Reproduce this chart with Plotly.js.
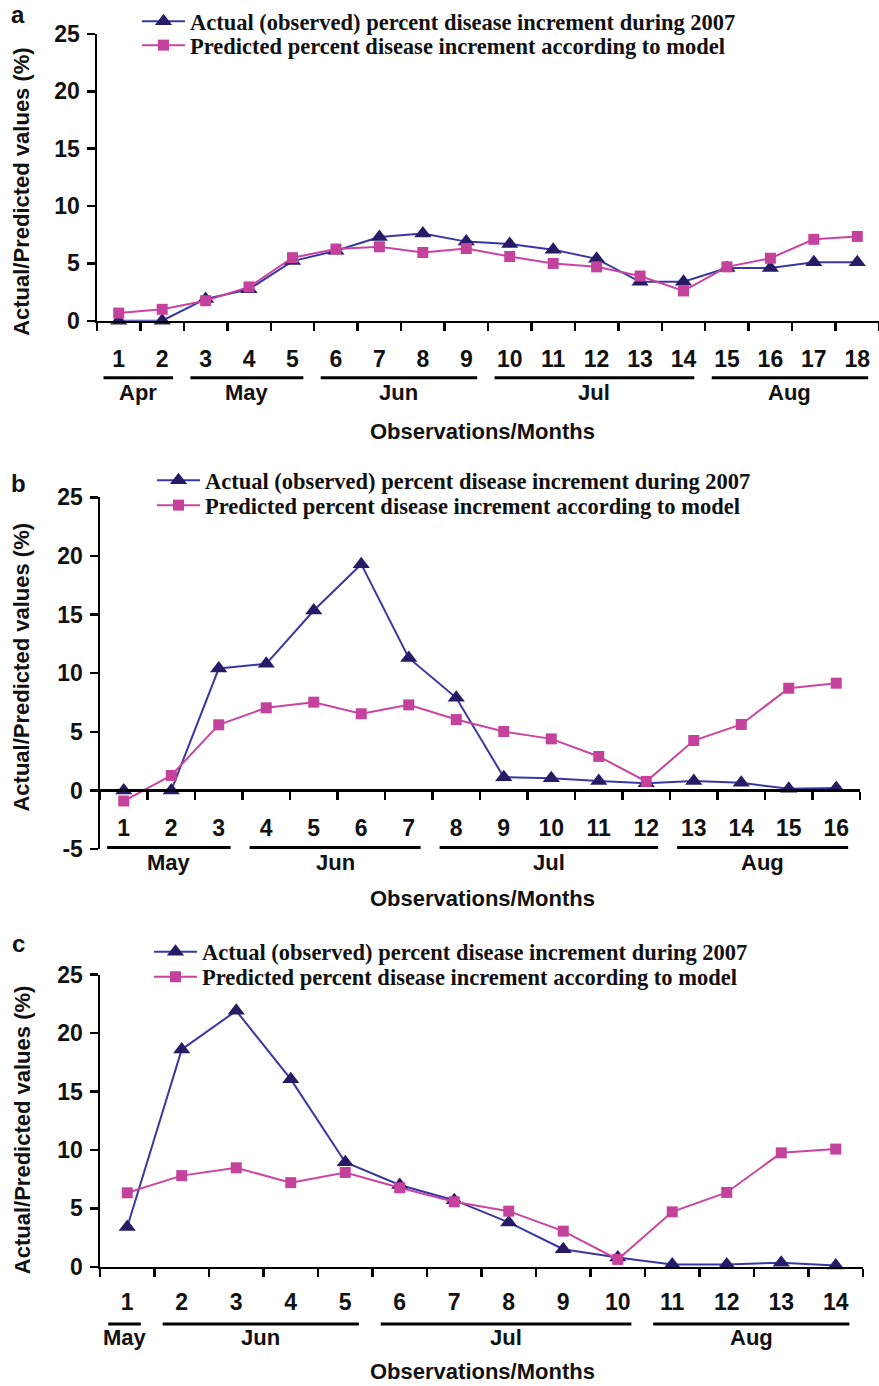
<!DOCTYPE html>
<html><head><meta charset="utf-8">
<script src="https://cdn.plot.ly/plotly-3.0.1.min.js"></script>
<style>html,body{margin:0;padding:0;background:#fff}</style>
</head><body><div id="chart" style="width:879px;height:1386px"></div>
<script>
// ---------- DATA ----------
const seriesNames = ['Actual (observed) percent disease increment during 2007', 'Predicted percent disease increment according to model'];

const obsA = ['1','2','3','4','5','6','7','8','9','10','11','12','13','14','15','16','17','18'];
const actualA = [0, 0, 1.9, 2.75, 5.2, 6.1, 7.3, 7.6, 6.9, 6.7, 6.2, 5.4, 3.4, 3.4, 4.6, 4.6, 5.1, 5.1];
const predictedA = [0.67, 1.0, 1.75, 2.95, 5.5, 6.25, 6.45, 5.95, 6.3, 5.6, 5.0, 4.7, 3.9, 2.6, 4.7, 5.45, 7.1, 7.35];
const monthsA = ['Apr', 'May', 'Jun', 'Jul', 'Aug'];
const monthStartA = [1, 3, 6, 10, 15];
const monthEndA = [2, 5, 9, 14, 18];

const obsB = ['1','2','3','4','5','6','7','8','9','10','11','12','13','14','15','16'];
const actualB = [0, 0, 10.4, 10.8, 15.35, 19.3, 11.3, 7.9, 1.13, 1.05, 0.8, 0.62, 0.8, 0.65, 0.14, 0.2];
const predictedB = [-0.9, 1.28, 5.6, 7.05, 7.53, 6.54, 7.3, 6.05, 5.03, 4.4, 2.9, 0.77, 4.26, 5.63, 8.72, 9.15];
const monthsB = ['May', 'Jun', 'Jul', 'Aug'];
const monthStartB = [1, 4, 8, 13];
const monthEndB = [3, 7, 12, 16];

const obsC = ['1','2','3','4','5','6','7','8','9','10','11','12','13','14'];
const actualC = [3.4, 18.6, 21.9, 16.05, 8.95, 7.0, 5.7, 3.8, 1.5, 0.8, 0.2, 0.2, 0.35, 0.1];
const predictedC = [6.33, 7.8, 8.47, 7.2, 8.07, 6.76, 5.56, 4.76, 3.05, 0.63, 4.7, 6.36, 9.75, 10.07];
const monthsC = ['May', 'Jun', 'Jul', 'Aug'];
const monthStartC = [1, 2, 6, 11];
const monthEndC = [1, 5, 10, 14];

const panelLetters = ['a', 'b', 'c'];
const yTickVals = [[0,5,10,15,20,25], [-5,0,5,10,15,20,25], [0,5,10,15,20,25]];
const yTickText = [['0','5','10','15','20','25'], ['-5','0','5','10','15','20','25'], ['0','5','10','15','20','25']];
const yRanges = [[0,25], [-5,25], [0,25]];
const xTitle = 'Observations/Months';
const yTitle = 'Actual/Predicted values (%)';

// ---------- LAYOUT GEOMETRY (pixels) ----------
const W = 879, H = 1386;
const fx = p => p / W;
const fy = p => 1 - p / H;
const geo = [
  {xl: 97, xr: 879, yTop: 33, yBot: 320, legX: 137, legY: [20.5, 45.5], monthLine: 377, monthLbl: 392, xTitleY: 431, yTitleY: 191, letterY: 14, xStand: 16},
  {xl: 100, xr: 860, yTop: 496.7, yBot: 848.7, legX: 152, legY: [480.5, 505.5], monthLine: 847, monthLbl: 862, xTitleY: 898, yTitleY: 667, letterY: 483, xStand: 16},
  {xl: 100, xr: 863, yTop: 974.3, yBot: 1266.7, legX: 149, legY: [952, 977], monthLine: 1324, monthLbl: 1337, xTitleY: 1371, yTitleY: 1130, letterY: 943, xStand: 13}
];

const panels = [
  {obs: obsA, act: actualA, pred: predictedA, months: monthsA, ms: monthStartA, me: monthEndA},
  {obs: obsB, act: actualB, pred: predictedB, months: monthsB, ms: monthStartB, me: monthEndB},
  {obs: obsC, act: actualC, pred: predictedC, months: monthsC, ms: monthStartC, me: monthEndC}
];

const blueLine = '#3a37a3', blueMarker = '#271b66';
const pinkLine = '#c9459f', pinkMarker = '#c4429b';
const sansBold = {family: 'Arial, "Liberation Sans", sans-serif', size: 22, color: '#111', weight: 'bold'};
const tickBold = {family: 'Arial, "Liberation Sans", sans-serif', size: 23, color: '#111', weight: 'bold'};
const serifBold = {family: '"Times New Roman", "Liberation Serif", serif', size: 22.5, color: '#111', weight: 'bold'};

const traces = [];
const layout = {
  width: W, height: H, autosize: false,
  margin: {l: 0, r: 0, t: 0, b: 0},
  paper_bgcolor: '#fff', plot_bgcolor: 'rgba(0,0,0,0)',
  showlegend: true,
  annotations: [], shapes: []
};

panels.forEach((p, i) => {
  const g = geo[i];
  const sfx = i === 0 ? '' : String(i + 1);
  const xa = 'x' + sfx, ya = 'y' + sfx;
  const legA = 'legend' + (i === 0 ? '' : String(2 * i + 1));
  const legP = 'legend' + String(2 * i + 2);

  traces.push({
    type: 'scatter', mode: 'lines+markers', x: p.obs, y: p.act, xaxis: xa, yaxis: ya,
    name: seriesNames[0], legend: legA, cliponaxis: false,
    line: {color: blueLine, width: 2},
    marker: {symbol: 'triangle-up', size: 15, color: blueMarker, line: {width: 0}}
  });
  traces.push({
    type: 'scatter', mode: 'lines+markers', x: p.obs, y: p.pred, xaxis: xa, yaxis: ya,
    name: seriesNames[1], legend: legP, cliponaxis: false,
    line: {color: pinkLine, width: 2},
    marker: {symbol: 'square', size: 11, color: pinkMarker, line: {width: 0}}
  });

  const yr = yRanges[i];
  const yDom = [fy(g.yBot), fy(g.yTop)];
  const zeroPos = yDom[0] + (yDom[1] - yDom[0]) * (0 - yr[0]) / (yr[1] - yr[0]);

  layout['xaxis' + sfx] = {
    type: 'category', domain: [fx(g.xl), Math.min(1, fx(g.xr))],
    range: [-0.5, p.obs.length - 0.5],
    anchor: yr[0] === 0 ? ya : 'free', position: zeroPos,
    showline: true, linecolor: '#000', linewidth: 2.5,
    ticks: 'outside', tickson: 'boundaries', ticklen: 8, tickwidth: 2.5, tickcolor: '#000',
    tickfont: tickBold, ticklabelstandoff: g.xStand,
    showgrid: false, zeroline: false, fixedrange: true
  };
  layout['yaxis' + sfx] = {
    domain: yDom, range: yr, anchor: xa,
    tickmode: 'array', tickvals: yTickVals[i], ticktext: yTickText[i],
    showline: true, linecolor: '#000', linewidth: 2.5,
    ticks: 'outside', ticklen: 8, tickwidth: 2.5, tickcolor: '#000',
    tickfont: tickBold, ticklabelstandoff: 2,
    showgrid: false, zeroline: false, fixedrange: true
  };

  // legends (one per item to control spacing)
  [legA, legP].forEach((lg, k) => {
    layout[lg] = {
      x: fx(g.legX), y: fy(g.legY[k]), xanchor: 'left', yanchor: 'middle',
      bgcolor: 'rgba(0,0,0,0)', borderwidth: 0, font: serifBold, itemwidth: 43
    };
  });

  // month groups
  p.months.forEach((m, j) => {
    const x0 = p.ms[j] - 1 - 0.35, x1 = p.me[j] - 1 + 0.25;
    layout.shapes.push({type: 'line', xref: xa, yref: 'paper', x0: x0, x1: x1,
      y0: fy(g.monthLine), y1: fy(g.monthLine), line: {color: '#000', width: 3}});
    layout.annotations.push({xref: xa, yref: 'paper', x: (x0 + x1) / 2, y: fy(g.monthLbl),
      text: m, showarrow: false, font: sansBold, xanchor: 'center', yanchor: 'middle'});
  });

  layout.annotations.push({xref: 'paper', yref: 'paper', x: fx(483), y: fy(g.xTitleY), text: xTitle,
    showarrow: false, font: sansBold, xanchor: 'center', yanchor: 'middle'});
  layout.annotations.push({xref: 'paper', yref: 'paper', x: fx(22), y: fy(g.yTitleY), text: yTitle,
    textangle: -90, showarrow: false, font: sansBold, xanchor: 'center', yanchor: 'middle'});
  layout.annotations.push({xref: 'paper', yref: 'paper', x: fx(18), y: fy(g.letterY), text: panelLetters[i],
    showarrow: false, font: Object.assign({}, sansBold, {size: 24}), xanchor: 'center', yanchor: 'middle'});
});

Plotly.newPlot('chart', traces, layout, {staticPlot: true, displayModeBar: false});
</script></body></html>
